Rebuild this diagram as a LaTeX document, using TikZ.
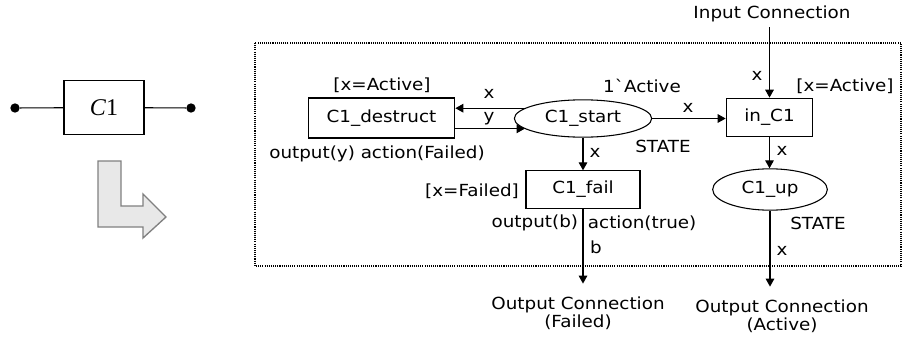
\documentclass[tikz,border=0pt]{standalone}
\usepackage{fontspec}
\setmainfont{DejaVu Sans}[FakeStretch=1.1, Ligatures=TeXOff]
\newfontfamily\timesfont{Liberation Serif}
\usetikzlibrary{arrows.meta,positioning,shapes.geometric}

\begin{document}
\begin{tikzpicture}[x=0.75pt, y=-0.75pt, >={Triangle[length=6pt,width=6.5pt]},
  font=\fontsize{12.5}{13.5}\selectfont, line width=0.8pt,
  trans/.style={draw, rectangle, inner sep=0pt},
  place/.style={draw, ellipse, inner sep=0pt},
  dot/.style={circle, fill, inner sep=0pt, minimum size=7pt}]
\useasboundingbox (0,0) rectangle (909,339);
% component block, 1 unit = 1 pixel of the target
\node[trans, minimum width=60pt, minimum height=40pt, font=\timesfont\fontsize{18}{20}\selectfont] (c1) at (104,107.5) {\textit{C}1};
\node[dot] (pl) at (15,108) {};
\node[dot] (pr) at (191,108) {};
\draw (pl) -- (c1) -- (pr);
\draw[gray, fill=gray!18, line width=1pt] (98,161) -- (121,161) -- (121,206) -- (143,206) -- (143,194) -- (166,217) -- (143,238) -- (143,227) -- (98,227) -- cycle;
% page of the net
\draw[dash pattern=on 0.8pt off 0.8pt] (255,43) rectangle (901,266);
\node[trans, minimum width=110pt, minimum height=30pt] (destr) at (381.5,118) {C1\_destruct};
\node[place, minimum width=103pt, minimum height=28pt] (start) at (583,118.5) {C1\_start};
\node[trans, minimum width=65pt, minimum height=29pt] (inc) at (769.5,117.5) {in\_C1};
\node[trans, minimum width=85.5pt, minimum height=28pt] (fail) at (583,189.5) {C1\_fail};
\node[place, minimum width=86pt, minimum height=31pt] (up) at (770,189.5) {C1\_up};
\node (incon) at (772,14) {Input Connection};
\node[align=center] (outf) at (578,313) {Output Connection\\(Failed)};
\node[align=center] (outa) at (782,316) {Output Connection\\(Active)};
% arcs
\draw[->] (start.170) -- (start.170 -| destr.east);
\draw[->] (destr.east |- start.190) -- (start.190);
\draw[->] (start.east) -- (start.east -| inc.west);
\draw[->] (start.south) -- (fail.north);
\draw[->] (inc.north |- incon.south) -- (inc.north);
\draw[->] (inc.south) -- (inc.south |- up.north);
\draw[->, shorten >=6pt] (fail.south) -- (fail.south |- outf.north);
\draw[->, shorten >=6pt] (up.south) -- (up.south |- outa.north);
% inscriptions
\node (gd) at (382,85) {[x=Active]};
\node (ax1) at (489,94) {x};
\node (ay) at (489,119) {y};
\node (cd) at (377,154) {output(y) action(Failed)};
\node (init) at (642,86) {1\char96 Active};
\node (st1) at (663,146) {STATE};
\node (ax2) at (688,108) {x};
\node (ax3) at (595,153) {x};
\node (gf) at (472,191) {[x=Failed]};
\node[anchor=east] (cf1) at (583,223) {output(b)};
\node[anchor=west] (cf2) at (583,223) {action(true)};
\node (ab) at (596,247) {b};
\node (ax4) at (757,76) {x};
\node (gi) at (845,86) {[x=Active]};
\node (ax5) at (782,151) {x};
\node (st2) at (818,223) {STATE};
\node (ax6) at (782,251) {x};
\end{tikzpicture}
\end{document}
